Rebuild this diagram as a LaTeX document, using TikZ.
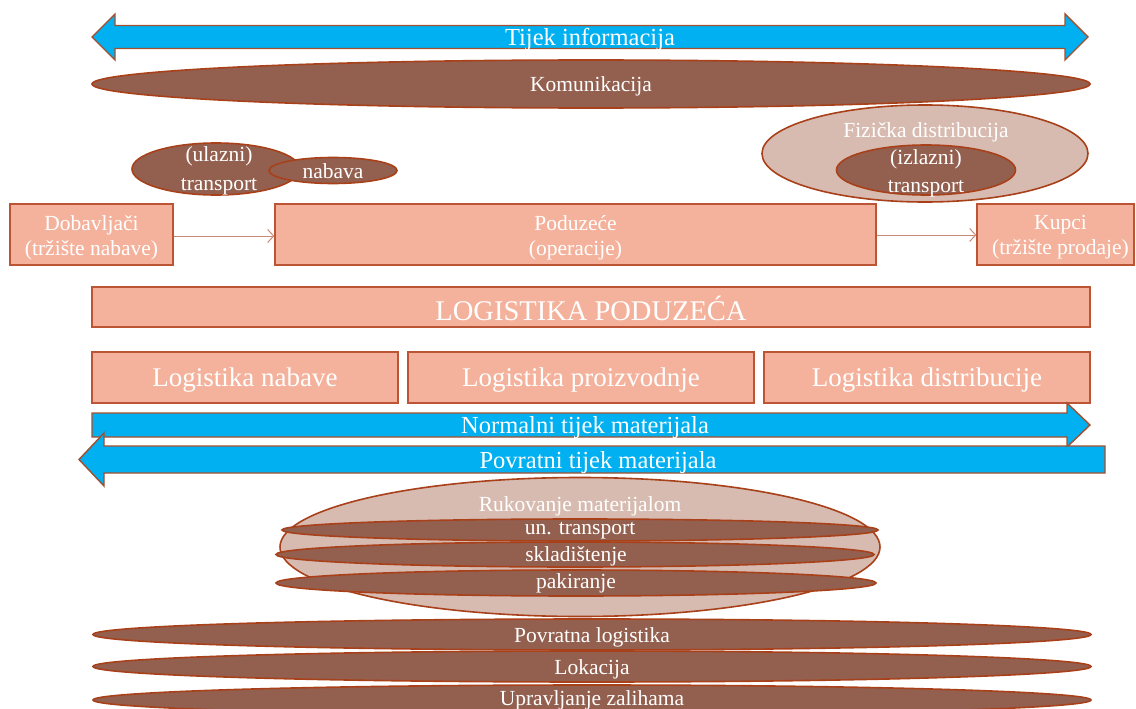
\documentclass[tikz,border=0pt]{standalone}
\usepackage{fontspec}
\setmainfont{Liberation Serif}
\usetikzlibrary{shapes.geometric,arrows.meta}
\definecolor{cyanfill}{HTML}{00B0F0}
\definecolor{arrowline}{HTML}{A3502E}
\definecolor{brownfill}{HTML}{93604F}
\definecolor{brownline}{HTML}{A8401A}
\definecolor{lightfill}{HTML}{D8BBB0}
\definecolor{salmon}{HTML}{F4B29C}
\definecolor{salmonline}{HTML}{BC5536}
\definecolor{linkcol}{HTML}{C98A75}
\begin{document}
\begin{tikzpicture}[x=1pt,y=-1pt,
  lbl/.style={text=white, inner sep=0pt, align=center},
  fa/.style={font=\fontsize{21.5}{25}\selectfont},
  fb/.style={font=\fontsize{24.5}{28}\selectfont},
  fc/.style={font=\fontsize{27}{30}\selectfont},
  fd/.style={font=\fontsize{28.5}{32}\selectfont},
  oval/.style={ellipse, draw=brownline, line width=1.6pt, fill=brownfill, inner sep=0pt},
  lightoval/.style={ellipse, draw=brownline, line width=1.6pt, fill=lightfill, inner sep=0pt},
  box/.style={rectangle, draw=salmonline, line width=1.3pt, fill=salmon, inner sep=0pt},
  flowarrow/.style={draw=arrowline, line width=1.4pt, fill=cyanfill},
  link/.style={draw=linkcol, line width=1pt, -{Straight Barb[length=6pt,width=13pt]}}
]
\useasboundingbox (0,0) rectangle (1136,709);

% information flow
\draw[flowarrow] (92,37) -- (115,14) -- (115,25.5) -- (1065,25.5) -- (1065,14) -- (1088,37)
  -- (1065,60) -- (1065,48.5) -- (115,48.5) -- (115,60) -- cycle;
\node[lbl,fb] (tijek) at (590,39) {Tijek informacija};

% communication
\node[oval, minimum width=998pt, minimum height=48pt] (komo) at (591,84) {};
\node[lbl,fa] (komt) at (591,86.5) {Komunikacija};

% inbound transport / procurement
\node[oval, minimum width=168pt, minimum height=52pt] (ulaz) at (216,169) {};
\node[oval, minimum width=128pt, minimum height=26pt] (nab) at (333,170.5) {};
\node[lbl,font=\fontsize{21.5}{29}\selectfont] (ulazt) at (219,171) {(ulazni)\\transport};
\node[lbl,fa] (nabt) at (333,171.5) {nabava};

% physical distribution
\node[lightoval, minimum width=326pt, minimum height=97pt] (fiz) at (925,153.5) {};
\node[oval, minimum width=179pt, minimum height=50pt] (izl) at (926,170) {};
\node[lbl,font=\fontsize{21.5}{27.5}\selectfont] (fizt) at (926,159.5) {Fizička distribucija\\(izlazni)\\transport};

% main chain
\node[box, minimum width=163pt, minimum height=61pt] (dob) at (91.5,234.5) {};
\node[box, minimum width=601pt, minimum height=61pt] (pod) at (575.5,234.5) {};
\node[box, minimum width=157pt, minimum height=61pt] (kup) at (1055.5,234.5) {};
\node[lbl,fa] (dobt) at ([yshift=-3pt]dob.center) {Dobavljači\\(tržište nabave)};
\node[lbl,fa] (podt) at ([yshift=-3pt]pod.center) {Poduzeće\\(operacije)};
\node[lbl,fa] (kupt) at ([xshift=5pt,yshift=-3pt]kup.center) {Kupci\\(tržište prodaje)};
\draw[link] (dob.east |- 0,236) -- (pod.west |- 0,236);
\draw[link] (pod.east |- 0,235) -- (kup.west |- 0,235);

% logistics boxes
\node[box, minimum width=998pt, minimum height=40pt] (logp) at (591,307) {};
\node[box, minimum width=306pt, minimum height=51pt] (logn) at (245,377.5) {};
\node[box, minimum width=346pt, minimum height=51pt] (logpr) at (581,377.5) {};
\node[box, minimum width=326pt, minimum height=51pt] (logd) at (927,377.5) {};
\node[lbl,fd] (logpt) at ([yshift=-1pt]logp.center) {LOGISTIKA PODUZEĆA};
\node[lbl,fc] (lognt) at ([yshift=-3pt]logn.center) {Logistika nabave};
\node[lbl,fc] (logprt) at ([yshift=-3pt]logpr.center) {Logistika proizvodnje};
\node[lbl,fc] (logdt) at ([yshift=-3pt]logd.center) {Logistika distribucije};

% material flows
\draw[flowarrow] (92,413) -- (1067,413) -- (1067,403) -- (1090,425) -- (1067,447) -- (1067,437) -- (92,437) -- cycle;
\node[lbl,fb] (norm) at (585,428) {Normalni tijek materijala};
\draw[flowarrow] (79,459.5) -- (104,433) -- (104,446) -- (1105,446) -- (1105,473) -- (104,473) -- (104,486) -- cycle;
\node[lbl,fb] (povr) at (598,463) {Povratni tijek materijala};

% material handling
\node[lightoval, minimum width=600pt, minimum height=139pt] (ruk) at (580,547) {};
\node[oval, minimum width=596pt, minimum height=22pt] (unt) at (580,530) {};
\node[oval, minimum width=598pt, minimum height=25pt] (skl) at (575,554.5) {};
\node[oval, minimum width=600pt, minimum height=26pt] (pak) at (576,583) {};
\node[lbl,fa] (rukt) at (580,506) {Rukovanje materijalom};
\node[lbl,fa] (untt) at (580,531) {un. transport};
\node[lbl,fa] (sklt) at (576,556) {skladištenje};
\node[lbl,fa] (pakt) at (576,583.5) {pakiranje};

% bottom ovals
\node[oval, minimum width=998pt, minimum height=31pt] (povl) at (592,634.5) {};
\node[oval, minimum width=998pt, minimum height=31pt] (lok) at (592,666.5) {};
\node[oval, minimum width=998pt, minimum height=30pt] (upr) at (592,700) {};
\node[lbl,fa] (povlt) at (592,637) {Povratna logistika};
\node[lbl,fa] (lokt) at (592,669) {Lokacija};
\node[lbl,fa] (uprt) at (592,700) {Upravljanje zalihama};
\end{tikzpicture}
\end{document}
